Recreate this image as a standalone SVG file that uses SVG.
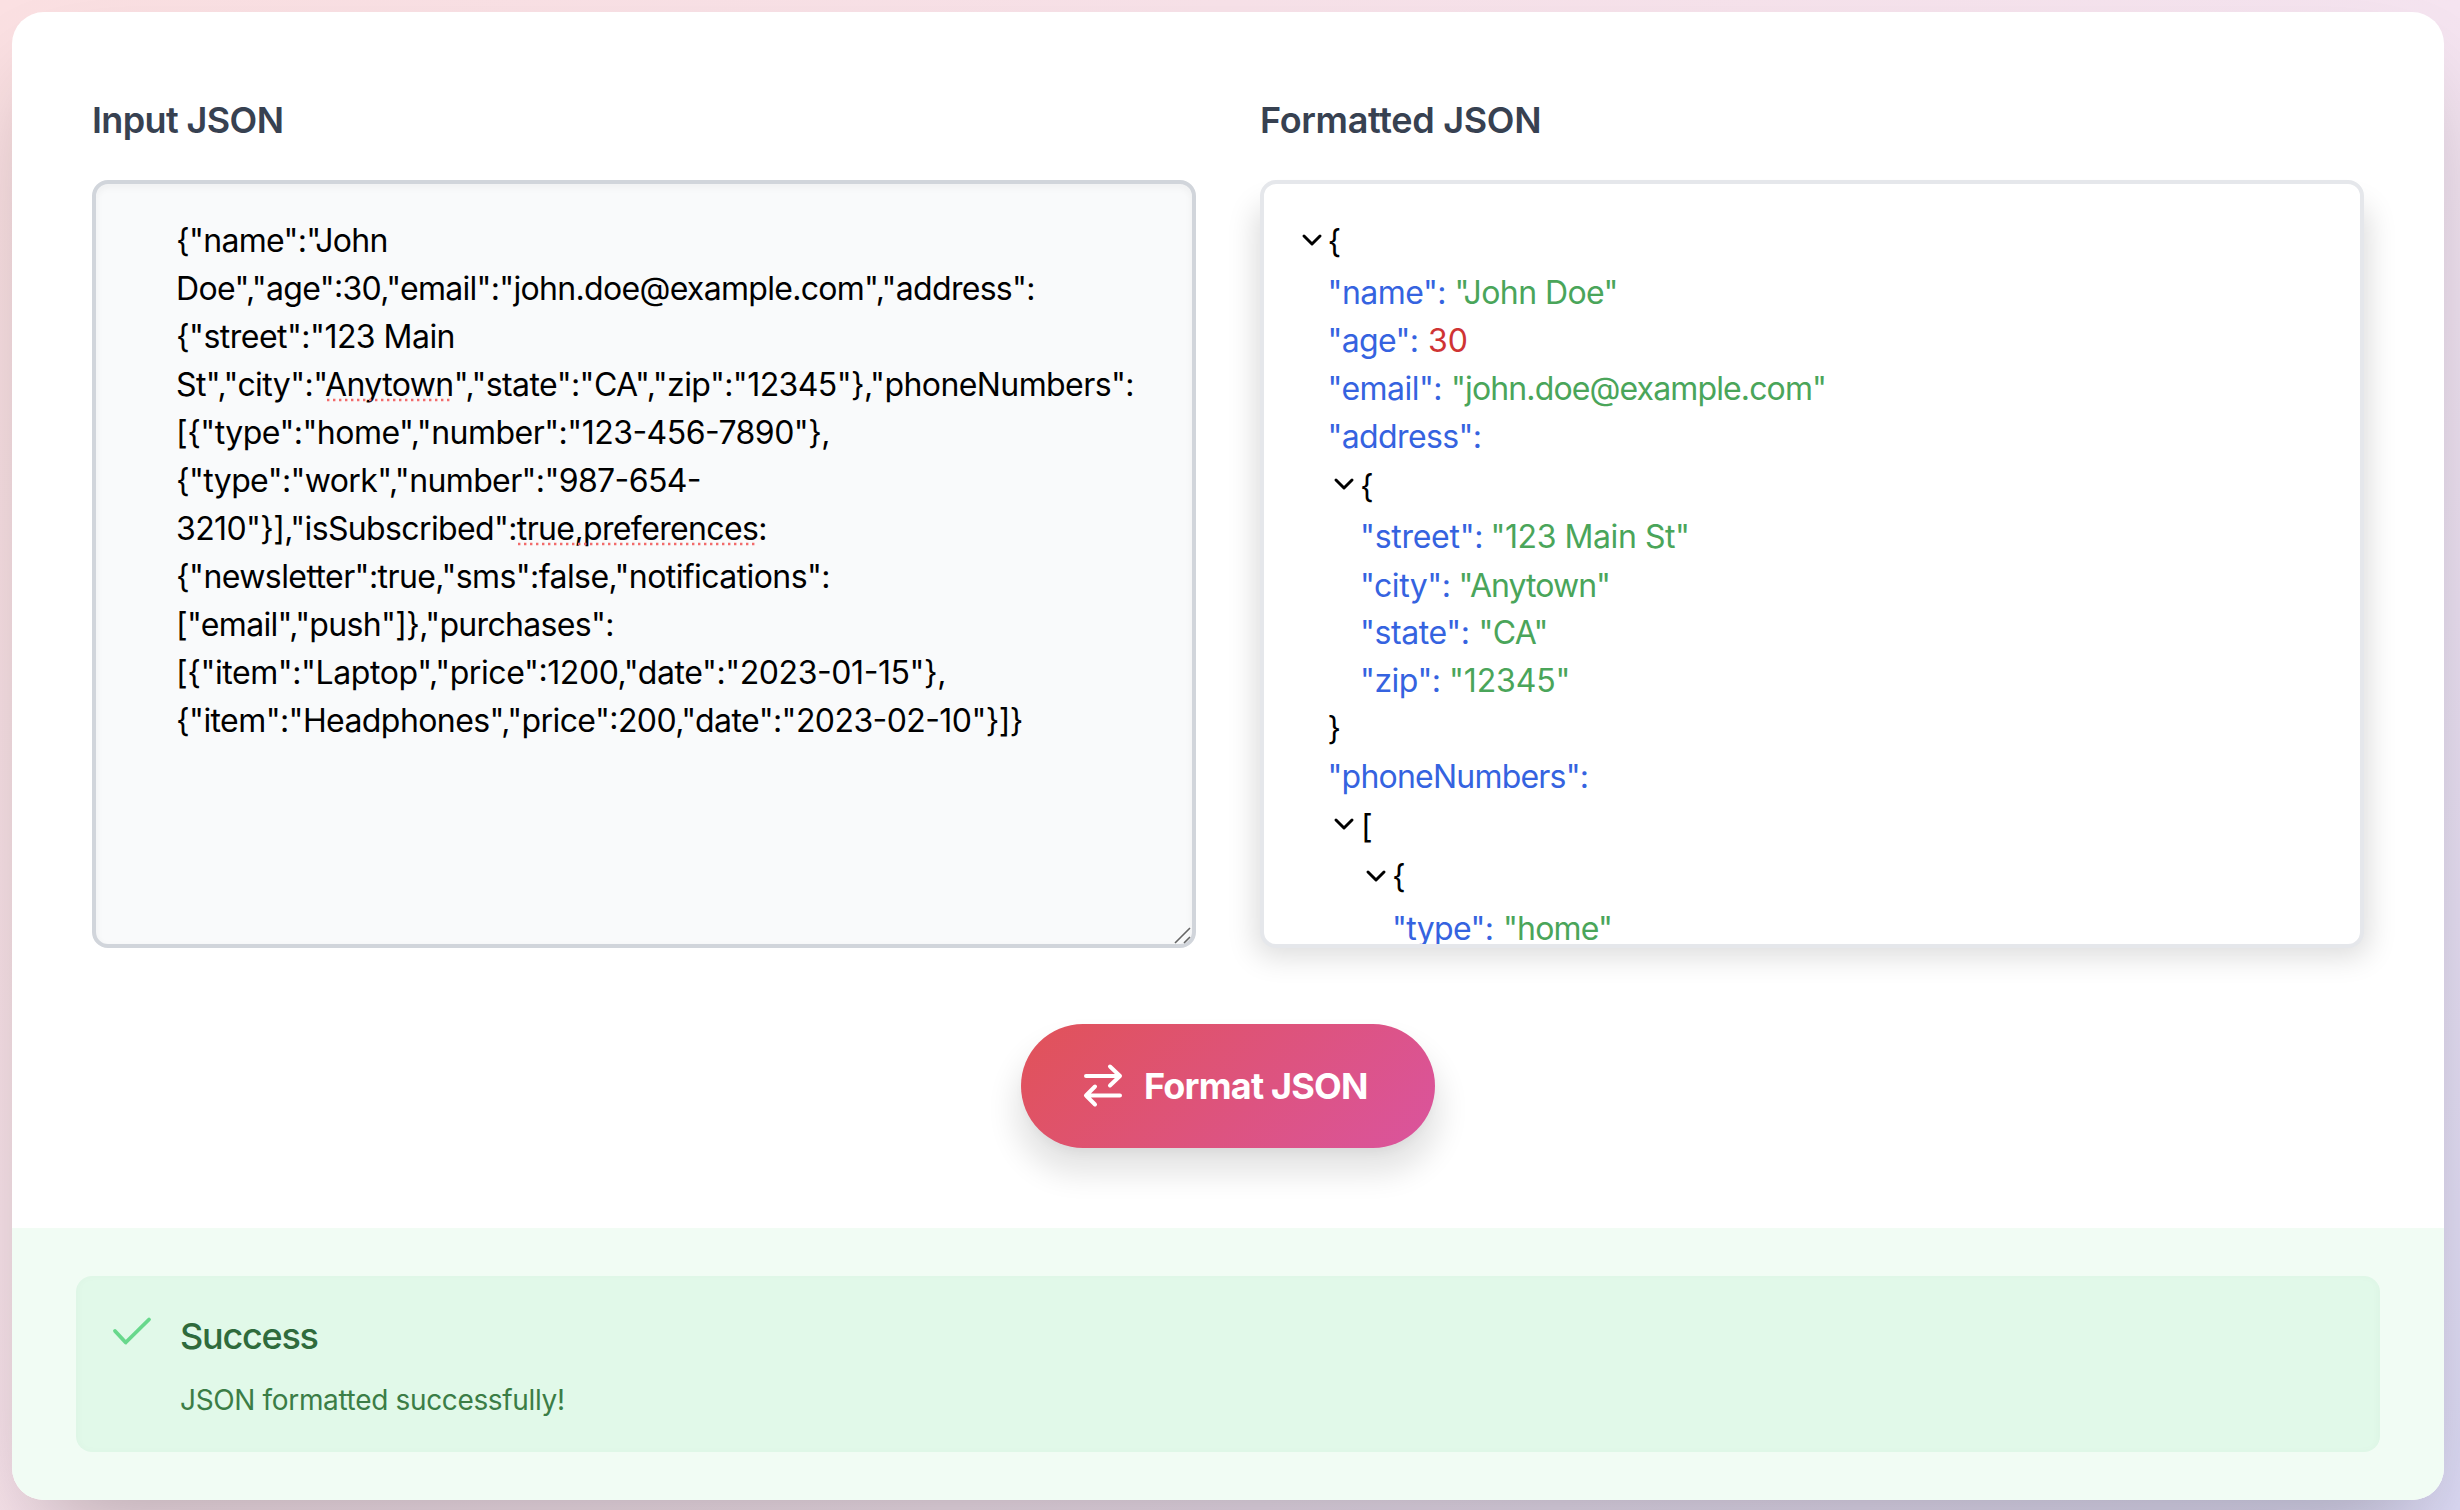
<svg xmlns="http://www.w3.org/2000/svg" width="2460" height="1510" viewBox="0 0 2460 1510">
<style>
text{font-family:Inter,"Noto Sans","Liberation Sans",sans-serif;}
.label{font-size:36px;font-weight:600;fill:#374151}
.in{font-size:32px;fill:#000}
.t{font-size:32px;fill:#000}
.k{fill:#3563e0}
.s{fill:#4aa55a}
.n{fill:#cf3434}
.chev{fill:none;stroke:#000;stroke-width:3;stroke-linecap:round;stroke-linejoin:round}
.squig{fill:none;stroke:#f26b6b;stroke-width:2.4;stroke-dasharray:2.4 3.6}
</style>
<defs>
<linearGradient id="bg" gradientUnits="userSpaceOnUse" x1="237.500" y1="-237.500" x2="2222.500" y2="1747.500">
<stop offset="0" stop-color="#fbe0e2"/><stop offset=".62" stop-color="#f5e4f0"/><stop offset="1" stop-color="#dcdaf5"/>
</linearGradient>
<linearGradient id="btn" gradientUnits="userSpaceOnUse" x1="1093.5" y1="951.5" x2="1362.5" y2="1220.5">
<stop offset="0" stop-color="#e15258"/><stop offset="1" stop-color="#da549e"/>
</linearGradient>
<filter id="b50" x="-20%" y="-20%" width="140%" height="140%"><feGaussianBlur stdDeviation="50"/></filter>
<filter id="b15" x="-20%" y="-40%" width="140%" height="180%"><feGaussianBlur stdDeviation="15"/></filter>
<filter id="b6" x="-20%" y="-40%" width="140%" height="180%"><feGaussianBlur stdDeviation="6"/></filter>
<filter id="b3" x="-5%" y="-5%" width="110%" height="110%"><feGaussianBlur stdDeviation="3"/></filter>
<clipPath id="cardClip"><rect x="12" y="12" width="2432" height="1488" rx="32"/></clipPath>
<clipPath id="treeClip"><rect x="1264" y="184" width="1096" height="760" rx="12"/></clipPath>
<clipPath id="inClip"><rect x="96" y="184" width="1096" height="760" rx="12"/></clipPath>
<clipPath id="alertClip"><rect x="76" y="1276" width="2304" height="176" rx="16"/></clipPath>
</defs>
<rect id="page" width="2460" height="1510" fill="url(#bg)"/>
<rect x="36" y="86" width="2384" height="1440" rx="32" fill="#000" opacity=".25" filter="url(#b50)"/>
<g id="card">
<rect x="12" y="12" width="2432" height="1488" rx="32" fill="#fff"/>
<rect x="12" y="1228" width="2432" height="272" fill="#f1fcf4" clip-path="url(#cardClip)"/>
</g>
<g id="input-panel">
<text class="label" x="92" y="133" textLength="192">Input JSON</text>
<rect x="94" y="182" width="1100" height="764" rx="14" fill="#f9fafb" stroke="#d1d5db" stroke-width="4"/>
<g clip-path="url(#inClip)"><rect x="94" y="182" width="1100" height="764" rx="14" fill="none" stroke="#000" stroke-opacity=".06" stroke-width="4" filter="url(#b3)" transform="translate(0 3)"/></g>
<text class="in" x="176" y="252" textLength="212.500">{"name":"John</text>
<text class="in" x="176" y="300" textLength="859.500">Doe","age":30,"email":"john.doe@example.com","address":</text>
<text class="in" x="176" y="348" textLength="279.500">{"street":"123 Main</text>
<text class="in" x="176" y="396" textLength="958.500">St","city":"Anytown","state":"CA","zip":"12345"},"phoneNumbers":</text>
<text class="in" x="176" y="444" textLength="654.500">[{"type":"home","number":"123-456-7890"},</text>
<text class="in" x="176" y="492" textLength="525.500">{"type":"work","number":"987-654-</text>
<text class="in" x="176" y="540" textLength="591.500">3210"}],"isSubscribed":true,preferences:</text>
<text class="in" x="176" y="588" textLength="654.500">{"newsletter":true,"sms":false,"notifications":</text>
<text class="in" x="176" y="636" textLength="438.500">["email","push"]},"purchases":</text>
<text class="in" x="176" y="684" textLength="770.500">[{"item":"Laptop","price":1200,"date":"2023-01-15"},</text>
<text class="in" x="176" y="732" textLength="847.500">{"item":"Headphones","price":200,"date":"2023-02-10"}]}</text>
<line class="squig" x1="327" y1="400" x2="452" y2="400"/>
<line class="squig" x1="518" y1="544" x2="758" y2="544"/>
<path d="M1175 943L1190 928M1184 943L1190 937" fill="none" stroke="#666" stroke-width="1.6"/>
</g>
<g id="output-panel">
<text class="label" x="1260" y="133" textLength="281.500">Formatted JSON</text>
<rect x="1256" y="206" width="1112" height="750" rx="14" fill="#000" opacity=".14" filter="url(#b15)"/>
<rect x="1262" y="182" width="1100" height="764" rx="14" fill="#fff" stroke="#e5e7eb" stroke-width="4"/>
<g clip-path="url(#treeClip)">
<path class="chev" d="M1304 236l8 8l8-8"/><text class="t" x="1327.500" y="253">{</text>
<text class="t" y="304" xml:space="preserve"><tspan class="k" x="1327.500" textLength="119">"name":</tspan> <tspan class="s" x="1454.500" textLength="164">"John Doe"</tspan></text>
<text class="t" y="352" xml:space="preserve"><tspan class="k" x="1327.500" textLength="91.500">"age":</tspan> <tspan class="n" x="1428" textLength="40">30</tspan></text>
<text class="t" y="400" xml:space="preserve"><tspan class="k" x="1327.500" textLength="115">"email":</tspan> <tspan class="s" x="1451" textLength="376">"john.doe@example.com"</tspan></text>
<text class="t k" x="1327.500" y="448" textLength="154.500">"address":</text>
<path class="chev" d="M1336 480l8 8l8-8"/><text class="t" x="1360" y="498">{</text>
<text class="t" y="548" xml:space="preserve"><tspan class="k" x="1360" textLength="123.500">"street":</tspan> <tspan class="s" x="1490.500" textLength="199.500">"123 Main St"</tspan></text>
<text class="t" y="596.500" xml:space="preserve"><tspan class="k" x="1360" textLength="91">"city":</tspan> <tspan class="s" x="1458.500" textLength="152.500">"Anytown"</tspan></text>
<text class="t" y="644" xml:space="preserve"><tspan class="k" x="1360" textLength="110">"state":</tspan> <tspan class="s" x="1478.500" textLength="70">"CA"</tspan></text>
<text class="t" y="692" xml:space="preserve"><tspan class="k" x="1360" textLength="81">"zip":</tspan> <tspan class="s" x="1449" textLength="121.500">"12345"</tspan></text>
<text class="t" x="1327.500" y="740">}</text>
<text class="t k" x="1327.500" y="788" textLength="261.500">"phoneNumbers":</text>
<path class="chev" d="M1336 820l8 8l8-8"/><text class="t" x="1361" y="838">[</text>
<path class="chev" d="M1368 872l8 8l8-8"/><text class="t" x="1392" y="888">{</text>
<text class="t" y="939.500" xml:space="preserve"><tspan class="k" x="1392" textLength="102">"type":</tspan> <tspan class="s" x="1503" textLength="110">"home"</tspan></text>
</g>
</g>
<g id="format-button">
<rect x="1015" y="1044" width="426" height="130" rx="62" fill="#000" opacity=".1" filter="url(#b15)"/>
<rect x="1025" y="1032" width="406" height="120" rx="60" fill="#000" opacity=".05" filter="url(#b6)"/>
<rect x="1021" y="1024" width="414" height="124" rx="62" fill="url(#btn)"/>
<path d="M1086 1076H1120L1110 1066.500M1120 1076L1110 1085.500M1120 1095.500H1086L1095 1086.500M1086 1095.500L1095 1104.500" fill="none" stroke="#fff" stroke-width="4" stroke-linecap="round" stroke-linejoin="round"/>
<text x="1144" y="1099" font-size="36" font-weight="660" fill="#fff" textLength="224.500">Format JSON</text>
</g>
<g id="success-alert">
<rect x="76" y="1276" width="2304" height="176" rx="16" fill="#e1f9e9"/>
<g clip-path="url(#alertClip)"><rect x="76" y="1274" width="2304" height="180" rx="16" fill="none" stroke="#000" stroke-opacity=".025" stroke-width="4" filter="url(#b3)"/></g>
<path d="M115 1331L125.700 1342.500L149 1319.500" fill="none" stroke="#68d88c" stroke-width="3.800" stroke-linecap="round" stroke-linejoin="round"/>
<text x="180" y="1349" font-size="36" font-weight="500" fill="#2f6b3c" textLength="139">Success</text>
<text x="180" y="1410" font-size="28" fill="#3b7d46" textLength="385">JSON formatted successfully!</text>
</g>
</svg>
